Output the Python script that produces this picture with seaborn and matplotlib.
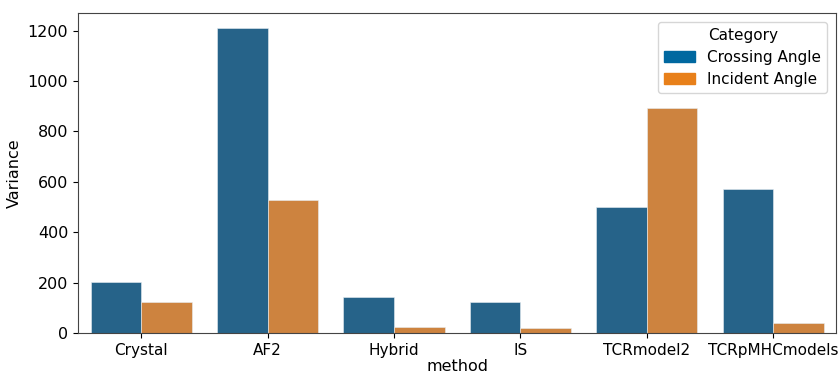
import matplotlib
matplotlib.use("Agg")
import matplotlib.pyplot as plt
import matplotlib.patches as mpatches
import seaborn as sns
import pandas as pd

methods = ["Crystal", "AF2", "Hybrid", "IS", "TCRmodel2", "TCRpMHCmodels"]
crossing_angle = [202, 1211, 143, 123, 501, 570]
incident_angle = [123, 528, 24, 21, 892, 38]
categories = ["Crossing Angle", "Incident Angle"]

df = pd.DataFrame({
    "method": methods * 2,
    "Variance": crossing_angle + incident_angle,
    "Category": [categories[0]] * len(methods) + [categories[1]] * len(methods),
})

plt.rcParams["font.size"] = 11.5
plt.rcParams["font.family"] = ["DejaVu Sans"]
plt.rcParams["axes.edgecolor"] = "#444444"

fig, ax = plt.subplots(figsize=(8.39, 3.74), dpi=100)
sns.barplot(data=df, x="method", y="Variance", hue="Category",
            palette=["#266389", "#cd833f"], saturation=1,
            edgecolor="#e8eef2", linewidth=0.4, ax=ax)

handles = [mpatches.Patch(color="#0068a0", label=categories[0]),
           mpatches.Patch(color="#e8801a", label=categories[1])]
ax.legend(handles=handles, title="Category", loc="upper right",
          fontsize=11, title_fontsize=11, labelspacing=0.45,
          borderaxespad=0.6)

ax.tick_params(axis="x", labelsize=11)
ax.set_xlabel("method", labelpad=1)
ax.set_ylabel("Variance")
fig.subplots_adjust(left=0.093, right=0.997, top=0.966, bottom=0.11)
fig.savefig("out.png")
